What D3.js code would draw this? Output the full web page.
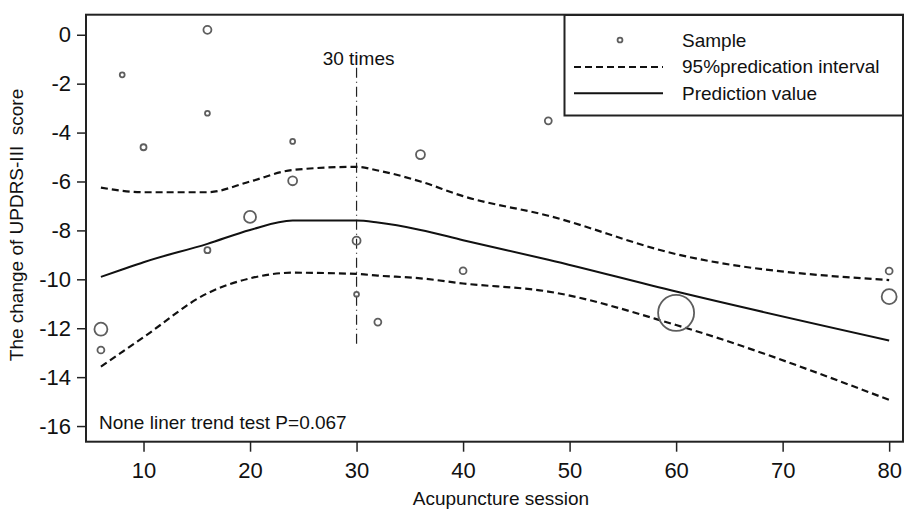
<!DOCTYPE html>
<html>
<head>
<meta charset="utf-8">
<script src="https://cdn.jsdelivr.net/npm/d3@7"></script>
<style>
  body { margin: 0; background: #fff; }
  svg { display: block; font-family: "Liberation Sans", Arial, sans-serif; }
</style>
</head>
<body>
<div id="chart"></div>
<script>
// Sample points (session, change of score, weight)
const sampleSession = [6, 6, 8, 10, 16, 16, 16, 20, 24, 24, 30, 30, 32, 36, 40, 48, 60, 80, 80];
const sampleChange  = [-12.04, -12.89, -1.64, -4.6, 0.2, -3.21, -8.81, -7.45, -4.36, -5.97, -8.42, -10.61, -11.75, -4.9, -9.65, -3.52, -11.37, -9.66, -10.71];
const sampleWeight  = [42, 12, 6, 9, 16, 6, 9, 36, 6, 20, 16, 6, 12, 20, 12, 12, 324, 12, 56];

// Fitted curve and 95% prediction interval
const fitSession = [6, 8, 10, 16, 20, 24, 30, 32, 36, 40, 48, 60, 80];
const predValue  = [-9.9, -9.6, -9.3, -8.55, -7.98, -7.6, -7.6, -7.68, -7.98, -8.4, -9.2, -10.5, -12.5];
const upperCI    = [-6.25, -6.38, -6.44, -6.44, -6.0, -5.53, -5.4, -5.55, -6.0, -6.6, -7.4, -8.97, -10.03];
const lowerCI    = [-13.57, -12.97, -12.37, -10.57, -9.96, -9.73, -9.78, -9.85, -9.96, -10.17, -10.5, -11.87, -14.93];

// Ticks
const xTicks = [10, 20, 30, 40, 50, 60, 70, 80];
const yTicks = [0, -2, -4, -6, -8, -10, -12, -14, -16];

// Reference line at 30 sessions
const refSession = 30;
const refRange = [-1.35, -12.8];

const width = 904, height = 510;
const font = '"Liberation Sans", Arial, sans-serif';

const svg = d3.select('#chart')
    .append('svg')
    .attr('width', width)
    .attr('height', height);

const x = d3.scaleLinear().domain([4.6, 81.3]).range([86, 903]);
const y = d3.scaleLinear().domain([0.82, -16.64]).range([14.7, 441.7]);
const r = d3.scaleSqrt().domain([0, 324]).range([0, 18]);

// Y axis
const yAxis = svg.append('g')
    .attr('transform', 'translate(86,0)')
    .call(d3.axisLeft(y).tickValues(yTicks).tickSize(9).tickPadding(6).tickFormat(d3.format('d')));
yAxis.select('.domain').remove();
yAxis.selectAll('line').attr('stroke', '#222').attr('stroke-width', 1.5);
yAxis.selectAll('text')
    .style('font-family', font)
    .style('font-size', '22px')
    .attr('fill', '#111')
    .text(d => d === 0 ? '0' : '-' + Math.abs(d));

// X axis
const xAxis = svg.append('g')
    .attr('transform', 'translate(0,441.7)')
    .call(d3.axisBottom(x).tickValues(xTicks).tickSize(10).tickPadding(11));
xAxis.select('.domain').remove();
xAxis.selectAll('line').attr('stroke', '#222').attr('stroke-width', 1.5);
xAxis.selectAll('text')
    .style('font-family', font)
    .style('font-size', '22px')
    .attr('fill', '#111');

// Plot frame
svg.append('rect')
    .attr('x', 86)
    .attr('y', 14.7)
    .attr('width', 903 - 86)
    .attr('height', 441.7 - 14.7)
    .attr('fill', 'none')
    .attr('stroke', '#222')
    .attr('stroke-width', 2);

// Reference dash-dot line
svg.append('line')
    .attr('x1', x(refSession))
    .attr('x2', x(refSession))
    .attr('y1', y(refRange[0]))
    .attr('y2', y(refRange[1]))
    .attr('stroke', '#222')
    .attr('stroke-width', 1.2)
    .attr('stroke-dasharray', '10,4,1,4');

svg.append('text')
    .attr('x', x(refSession) + 2)
    .attr('y', 65)
    .attr('text-anchor', 'middle')
    .style('font-size', '19px')
    .attr('fill', '#111')
    .text('30 times');

// Lines
const fitData = fitSession.map((s, i) => ({ s, pred: predValue[i], up: upperCI[i], lo: lowerCI[i] }));

const lineOf = key => d3.line().curve(d3.curveMonotoneX).x(d => x(d.s)).y(d => y(d[key]));

svg.append('path')
    .datum(fitData)
    .attr('d', lineOf('up'))
    .attr('fill', 'none')
    .attr('stroke', '#111')
    .attr('stroke-width', 2.2)
    .attr('stroke-dasharray', '7,4');

svg.append('path')
    .datum(fitData)
    .attr('d', lineOf('lo'))
    .attr('fill', 'none')
    .attr('stroke', '#111')
    .attr('stroke-width', 2.2)
    .attr('stroke-dasharray', '7,4');

svg.append('path')
    .datum(fitData)
    .attr('d', lineOf('pred'))
    .attr('fill', 'none')
    .attr('stroke', '#111')
    .attr('stroke-width', 2);

// Sample circles
const samples = sampleSession.map((s, i) => ({ s, v: sampleChange[i], w: sampleWeight[i] }));

svg.append('g')
    .selectAll('circle')
    .data(samples)
    .enter()
    .append('circle')
    .attr('cx', d => x(d.s))
    .attr('cy', d => y(d.v))
    .attr('r', d => r(d.w))
    .attr('fill', 'none')
    .attr('stroke', '#5e5e5e')
    .attr('stroke-width', 1.8);

// Annotation
svg.append('text')
    .attr('x', 99)
    .attr('y', 429)
    .style('font-size', '19px')
    .attr('fill', '#111')
    .text('None liner trend test P=0.067');

// Axis titles
svg.append('text')
    .attr('x', 501)
    .attr('y', 505)
    .attr('text-anchor', 'middle')
    .style('font-size', '19px')
    .attr('fill', '#111')
    .text('Acupuncture session');

svg.append('text')
    .attr('transform', 'translate(23,225) rotate(-90)')
    .attr('text-anchor', 'middle')
    .style('font-size', '19px')
    .style('white-space', 'pre')
    .attr('fill', '#111')
    .text('The change of UPDRS-III  score');

// Legend
const legend = svg.append('g');

legend.append('rect')
    .attr('x', 564.5)
    .attr('y', 15)
    .attr('width', 903 - 564.5)
    .attr('height', 100.5)
    .attr('fill', '#fff')
    .attr('stroke', '#222')
    .attr('stroke-width', 2);

legend.append('circle')
    .attr('cx', 620)
    .attr('cy', 40)
    .attr('r', r(6))
    .attr('fill', 'none')
    .attr('stroke', '#5e5e5e')
    .attr('stroke-width', 1.8);

legend.append('line')
    .attr('x1', 574).attr('x2', 663)
    .attr('y1', 67).attr('y2', 67)
    .attr('stroke', '#111')
    .attr('stroke-width', 2.2)
    .attr('stroke-dasharray', '7,4');

legend.append('line')
    .attr('x1', 574).attr('x2', 663)
    .attr('y1', 93.3).attr('y2', 93.3)
    .attr('stroke', '#111')
    .attr('stroke-width', 2);

const legendLabels = ['Sample', '95%predication interval', 'Prediction value'];
legend.selectAll('text.lbl')
    .data(legendLabels)
    .enter()
    .append('text')
    .attr('class', 'lbl')
    .attr('x', 682)
    .attr('y', (d, i) => 47 + i * 26.4)
    .style('font-size', '19px')
    .attr('fill', '#111')
    .text(d => d);
</script>
</body>
</html>
